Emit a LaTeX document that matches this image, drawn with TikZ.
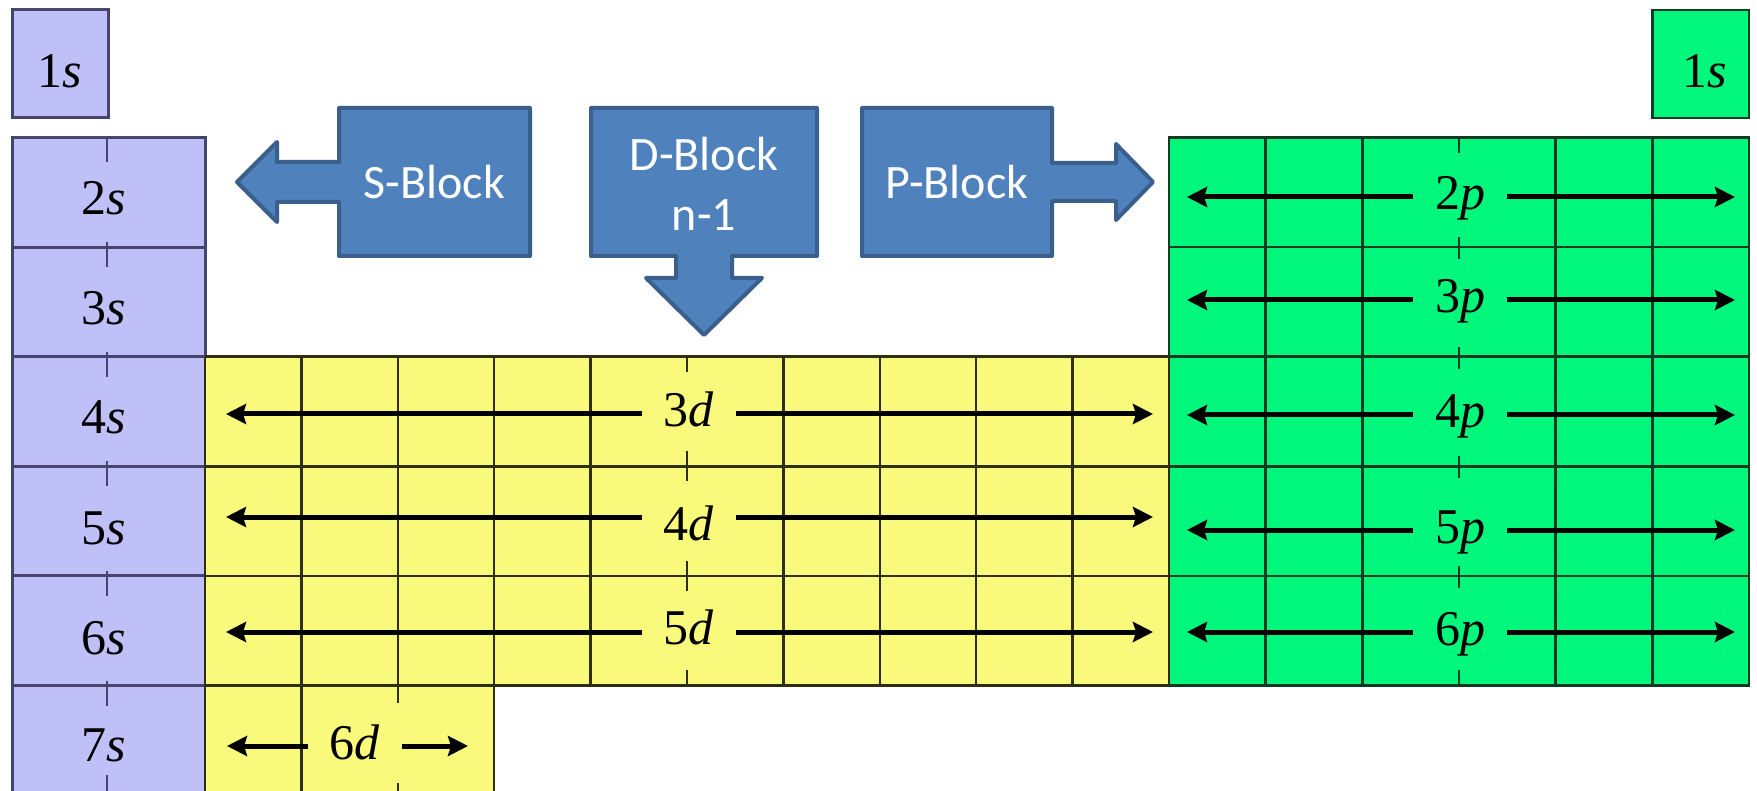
\documentclass[tikz,border=0pt]{standalone}
\usepackage{fontspec}
\setmainfont{Liberation Serif}
\newfontfamily\calib{Carlito}
\usetikzlibrary{arrows.meta}
\definecolor{sblue}{HTML}{C0C0F8}
\definecolor{sline}{HTML}{45456E}
\definecolor{dyel}{HTML}{F9F97C}
\definecolor{dline}{HTML}{2E2E10}
\definecolor{pgreen}{HTML}{00F77B}
\definecolor{pline}{HTML}{0C3A22}
\definecolor{cfill}{HTML}{4F81BD}
\definecolor{cline}{HTML}{3A5F8C}
\begin{document}
\begin{tikzpicture}[x=1pt,y=-1pt,
  lab/.style={font=\fontsize{50}{60}\selectfont, inner xsep=22pt, inner ysep=0pt, anchor=base},
  slab/.style={font=\fontsize{50}{60}\selectfont, inner sep=0pt, anchor=base},
  blocktxt/.style={font=\calib\fontsize{48}{60}\selectfont, text=white, align=center},
  callout/.style={fill=cfill, draw=cline, line width=4pt, line join=round},
  rowarrow/.style={line width=5pt, -{Stealth[length=20pt,width=20pt,inset=3pt]}},
  sgrid/.style={draw=sline, line width=3pt},
  stick/.style={draw=sline, line width=2.5pt},
  dgrid/.style={draw=dline, line width=2.5pt},
  pgrid/.style={draw=pline, line width=2.5pt}]
\useasboundingbox (0,0) rectangle (1757,791);
\clip (0,0) rectangle (1757,791);
\fill[white] (0,0) rectangle (1757,791);

% ---------- s block ----------
\fill[sblue] (12,137.5) rectangle (205,795.1);
\fill[sblue] (12,10) rectangle (108,118);
\foreach \y in {247.1,356.7,466.3,575.9,685.5}
  \draw[sgrid] (12,\y) -- (205,\y);
\draw[sgrid] (12,137.5) rectangle (205,795.1);
\draw[sgrid] (12,10) rectangle (108,118);
\draw[stick] (107,137.5) -- (107,162);
\foreach \y in {247.1,356.7,466.3,575.9,685.5}
  \draw[stick] (107,\y-5) -- (107,\y+20);
\draw[stick] (107,775) -- (107,795);

% ---------- d block ----------
\fill[dyel] (205,356.7) rectangle (1169,685.5);
\fill[dyel] (205,685.5) rectangle (494.2,795.1);
\foreach \i in {1,2,3,4,6,7,8,9}
  \draw[dgrid] (205+96.4*\i,356.7) -- (205+96.4*\i,685.5);
\foreach \y in {466.3,575.9,685.5}
  \draw[dgrid] (205,\y) -- (1169,\y);
\draw[dgrid] (205,356.7) -- (1169,356.7);
\draw[dgrid] (301.4,685.5) -- (301.4,795.1);
\draw[dgrid] (494.2,685.5) -- (494.2,795.1);
\draw[dgrid] (205,356.7) -- (205,795.1);
\draw[dgrid] (687,356.7) -- (687,372);
\foreach \y in {466.3,575.9}
  \draw[dgrid] (687,\y-15) -- (687,\y+15);
\draw[dgrid] (687,670) -- (687,685.5);
\draw[dgrid] (397.8,685.5) -- (397.8,703);
\draw[dgrid] (397.8,783) -- (397.8,795.1);

% ---------- p block ----------
\fill[pgreen] (1169,137.5) rectangle (1749,685.5);
\fill[pgreen] (1652.3,10) rectangle (1749,118);
\foreach \x in {1265.7,1362.3,1555.7,1652.3}
  \draw[pgrid] (\x,137.5) -- (\x,685.5);
\foreach \y in {247.1,356.7,466.3,575.9}
  \draw[pgrid] (1169,\y) -- (1749,\y);
\draw[pgrid] (1169,137.5) rectangle (1749,685.5);
\draw[pgrid] (1652.3,10) rectangle (1749,118);
\draw[pgrid] (1459,137.5) -- (1459,153);
\foreach \y in {247.1,356.7,466.3,575.9}
  \draw[pgrid] (1459,\y-10) -- (1459,\y+12);
\draw[pgrid] (1459,670) -- (1459,685.5);
\draw[dgrid] (1169,356.7) -- (1169,685.5);

% ---------- s labels ----------
\node[slab] (s1) at (60,88) {1\textit{s}};
\node[slab] (s1r) at (1705,88) {1\textit{s}};
\foreach \n/\yb in {2/215,3/325,4/434,5/544,6/654,7/761}
  \node[slab] (s\n) at (104,\yb) {\n\textit{s}};

% ---------- d rows ----------
\foreach \n/\xl/\yb/\ya/\tl/\tr in {3/689/427/414/226/1153,4/689/540/517/226/1153,5/689/644/632/226/1153,6/355/759/746/227/468}{
  \node[lab] (d\n) at (\xl,\yb) {\n\textit{d}};
  \coordinate (d\n L) at (\tl,\ya);
  \coordinate (d\n R) at (\tr,\ya);
  \draw[rowarrow] (d\n.west |- d\n L) -- (d\n L);
  \draw[rowarrow] (d\n.east |- d\n R) -- (d\n R);
}

% ---------- p rows ----------
\foreach \n/\yb/\ya in {2/210/197,3/313/300,4/428/415,5/543/530,6/645/632}{
  \node[lab] (p\n) at (1460,\yb) {\n\textit{p}};
  \coordinate (p\n L) at (1187,\ya);
  \coordinate (p\n R) at (1735,\ya);
  \draw[rowarrow] (p\n.west |- p\n L) -- (p\n L);
  \draw[rowarrow] (p\n.east |- p\n R) -- (p\n R);
}

% ---------- callouts ----------
\draw[callout] (530,108) -- (339,108) -- (339,162) -- (277,162) -- (277,142) -- (237,182)
  -- (277,222) -- (277,202) -- (339,202) -- (339,256) -- (530,256) -- cycle;
\draw[callout] (591,108) -- (817,108) -- (817,256) -- (732,256) -- (732,278) -- (762,278)
  -- (704,335) -- (646,278) -- (676,278) -- (676,256) -- (591,256) -- cycle;
\draw[callout] (862,108) -- (1052,108) -- (1052,163) -- (1116,163) -- (1116,144) -- (1153,182)
  -- (1116,220) -- (1116,201) -- (1052,201) -- (1052,256) -- (862,256) -- cycle;
\node[blocktxt] (sblock) at (434.5,182) {S-Block};
\node[blocktxt] (dblock) at (704,184) {D-Block\\n-1};
\node[blocktxt] (pblock) at (957,182) {P-Block};
\end{tikzpicture}
\end{document}
